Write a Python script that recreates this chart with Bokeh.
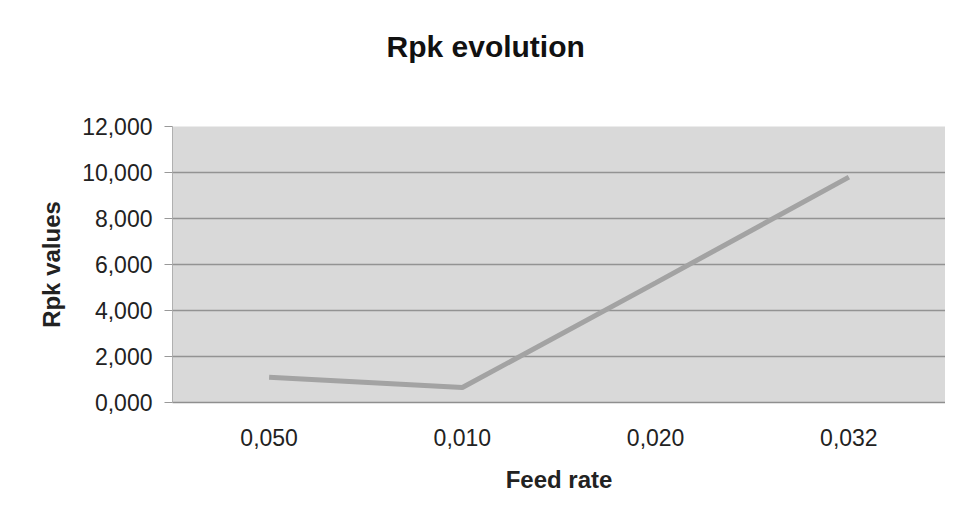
from bokeh.plotting import figure
from bokeh.models import Range1d, FixedTicker, CategoricalAxis
from bokeh.embed import file_html
from bokeh.resources import INLINE

# ---- data ----
categories = ["0,050", "0,010", "0,020", "0,032"]
rpk_values = [1.1, 0.65, 5.2, 9.8]
y_ticks = [0, 2, 4, 6, 8, 10, 12]
y_tick_labels = ["0,000", "2,000", "4,000", "6,000", "8,000", "10,000", "12,000"]
title_text = "Rpk evolution"

FONT = "Liberation Sans"

p = figure(
    x_range=categories,
    y_range=Range1d(0, 12),
    width=945, height=504,
    frame_width=773, frame_height=276,
    min_border_left=172, min_border_right=0,
    min_border_top=126, min_border_bottom=102,
    output_backend="svg", toolbar_location=None,
    title=title_text,
    background_fill_color="#d9d9d9",
    border_fill_color="white",
)

p.line(x=categories, y=rpk_values, line_color="#a3a3a3", line_width=5)

# invisible spacer between the plot area and the title
spacer = CategoricalAxis(
    major_label_text_color=None, major_label_text_font_size="1px",
    major_label_standoff=0, major_tick_out=64, major_tick_in=0,
    major_tick_line_color=None, axis_line_color=None,
)
p.add_layout(spacer, "above")

# title
p.title.text_font = FONT
p.title.text_font_size = "30px"
p.title.text_font_style = "bold"
p.title.text_color = "#111111"
p.title.align = "left"
p.title.offset = 214
p.title.standoff = 0

p.outline_line_color = None

# y axis
p.yaxis.ticker = FixedTicker(ticks=y_ticks)
p.yaxis.major_label_overrides = {t: l for t, l in zip(y_ticks, y_tick_labels)}
p.yaxis.axis_label = "Rpk values"
p.yaxis.axis_label_text_font = FONT
p.yaxis.axis_label_text_font_size = "24px"
p.yaxis.axis_label_text_font_style = "bold"
p.yaxis.axis_label_text_color = "#222222"
p.yaxis.axis_label_standoff = 14
p.yaxis.major_label_text_font = FONT
p.yaxis.major_label_text_font_size = "23px"
p.yaxis.major_label_text_color = "#222222"
p.yaxis.major_label_standoff = 12
p.yaxis.major_tick_out = 8
p.yaxis.major_tick_in = 0
p.yaxis.major_tick_line_color = "#999999"
p.yaxis.minor_tick_line_color = None
p.yaxis.axis_line_color = "#b0b0b0"

# x axis (bottom)
xa = p.below[0]
xa.axis_label = "Feed rate"
xa.axis_label_text_font = FONT
xa.axis_label_text_font_size = "24px"
xa.axis_label_text_font_style = "bold"
xa.axis_label_text_color = "#222222"
xa.axis_label_standoff = 17
xa.major_label_text_font = FONT
xa.major_label_text_font_size = "23px"
xa.major_label_text_color = "#222222"
xa.major_label_standoff = 20
xa.major_tick_line_color = None
xa.axis_line_color = "#8f8f8f"
xa.axis_line_width = 1.5

# grid
p.xgrid.grid_line_color = None
p.ygrid.grid_line_color = "#939393"
p.ygrid.grid_line_width = 1.5

open("out.html", "w").write(file_html(p, INLINE))
